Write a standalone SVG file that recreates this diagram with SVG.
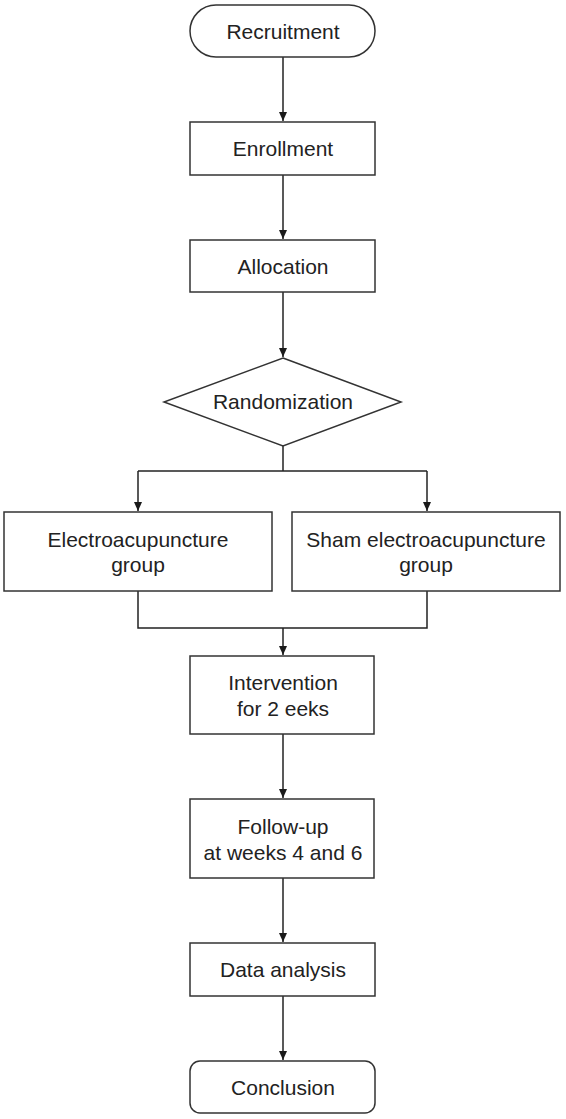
<svg xmlns="http://www.w3.org/2000/svg" width="566" height="1119" viewBox="0 0 566 1119">
<defs>
<marker id="arr" markerWidth="10" markerHeight="10" refX="9" refY="5" orient="auto" markerUnits="userSpaceOnUse">
<path d="M0,1 L9,5 L0,9 Z" fill="#1a1a1a"/>
</marker>
<style>
.box{fill:#fff;stroke:#333;stroke-width:1.5}
.t{font-family:"Liberation Sans",Arial,sans-serif;font-size:21px;fill:#222;text-anchor:middle}
.c{fill:none;stroke:#222;stroke-width:1.5}
</style>
</defs>
<rect width="566" height="1119" fill="#fff"/>
<g id="connectors">
<path class="c" d="M283,57 V121" marker-end="url(#arr)"/>
<path class="c" d="M283,175 V239" marker-end="url(#arr)"/>
<path class="c" d="M283,292 V357" marker-end="url(#arr)"/>
<path class="c" d="M283,446 V471"/>
<path class="c" d="M138,471 H427"/>
<path class="c" d="M138,471 V511" marker-end="url(#arr)"/>
<path class="c" d="M427,471 V511" marker-end="url(#arr)"/>
<path class="c" d="M138,591 V628 H427 V591"/>
<path class="c" d="M283,628 V655" marker-end="url(#arr)"/>
<path class="c" d="M283,734 V798" marker-end="url(#arr)"/>
<path class="c" d="M283,878 V942" marker-end="url(#arr)"/>
<path class="c" d="M283,996 V1060" marker-end="url(#arr)"/>
</g>
<g id="recruitment">
<rect class="box" x="190" y="5" width="185" height="52" rx="26"/>
<text class="t" x="283" y="39">Recruitment</text>
</g>
<g id="enrollment">
<rect class="box" x="190" y="122" width="185" height="53"/>
<text class="t" x="283" y="156">Enrollment</text>
</g>
<g id="allocation">
<rect class="box" x="190" y="240" width="185" height="52"/>
<text class="t" x="283" y="274">Allocation</text>
</g>
<g id="randomization">
<polygon class="box" points="283,358 401,402 283,446 164,402"/>
<text class="t" x="283" y="409">Randomization</text>
</g>
<g id="ea-group">
<rect class="box" x="4" y="512" width="268" height="79"/>
<text class="t" x="138" y="547">Electroacupuncture</text>
<text class="t" x="138" y="572">group</text>
</g>
<g id="sham-group">
<rect class="box" x="292" y="512" width="268" height="79"/>
<text class="t" x="426" y="547">Sham electroacupuncture</text>
<text class="t" x="426" y="572">group</text>
</g>
<g id="intervention">
<rect class="box" x="190" y="656" width="184" height="78"/>
<text class="t" x="283" y="690">Intervention</text>
<text class="t" x="283" y="716">for 2 eeks</text>
</g>
<g id="followup">
<rect class="box" x="190" y="799" width="184" height="79"/>
<text class="t" x="283" y="834">Follow-up</text>
<text class="t" x="283" y="860">at weeks 4 and 6</text>
</g>
<g id="data-analysis">
<rect class="box" x="190" y="943" width="185" height="53"/>
<text class="t" x="283" y="977">Data analysis</text>
</g>
<g id="conclusion">
<rect class="box" x="190" y="1061" width="185" height="52" rx="10"/>
<text class="t" x="283" y="1095">Conclusion</text>
</g>
</svg>
